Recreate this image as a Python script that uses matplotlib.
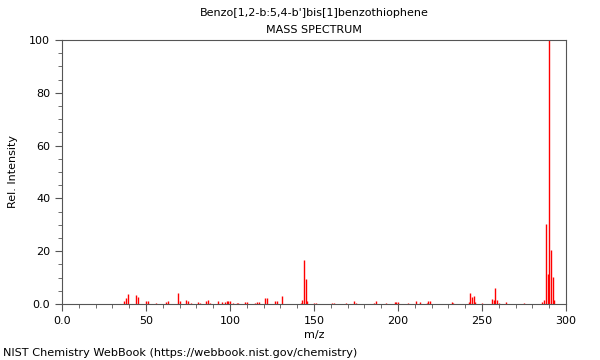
import matplotlib
matplotlib.use('Agg')
import matplotlib.pyplot as plt
from matplotlib.ticker import MultipleLocator, FixedFormatter, FixedLocator

# Title text
COMPOUND = "Benzo[1,2-b:5,4-b']bis[1]benzothiophene"
SUBTITLE = "MASS SPECTRUM"
CREDIT = "NIST Chemistry WebBook (https://webbook.nist.gov/chemistry)"

# Peaks (m/z, relative intensity)
mz = [37, 38, 39, 44, 45, 50, 51, 56, 62, 63, 69, 70, 74, 75, 77, 81, 82,
      86, 87, 88, 93, 95, 97, 98, 99, 100, 102, 104, 105, 109, 110, 115, 116,
      117, 121, 122, 127, 128, 131, 142, 143, 144, 145, 146, 150, 151, 161,
      162, 169, 174, 175, 186, 187, 193, 198, 199, 200, 206, 211, 213, 217,
      218, 219, 232, 233, 242, 243, 244, 245, 246, 250, 256, 257, 258, 259,
      260, 264, 275, 286, 287, 288, 289, 290, 291, 292, 293]
intensity = [1.0, 2.3, 3.7, 3.3, 2.6, 1.1, 1.0, 0.5, 0.8, 1.1, 4.2, 1.0, 1.5,
             1.0, 0.5, 0.8, 0.5, 1.2, 1.5, 0.5, 1.3, 0.8, 0.8, 1.0, 1.2, 1.3,
             0.3, 0.3, 0.4, 0.8, 0.8, 0.5, 0.8, 0.6, 2.2, 2.3, 1.3, 1.3, 3.0,
             0.3, 1.5, 16.5, 9.5, 1.0, 0.5, 0.4, 0.5, 0.5, 0.3, 1.0, 0.4, 0.5,
             1.0, 0.5, 0.8, 0.8, 0.6, 0.3, 1.0, 0.6, 0.5, 1.3, 1.0, 0.6, 0.5,
             0.6, 4.2, 2.5, 3.2, 0.8, 0.5, 2.0, 1.5, 6.2, 1.5, 0.4, 0.8, 0.5,
             0.8, 1.5, 30.3, 11.4, 100.0, 20.5, 10.4, 1.5]

x_ticks = [0, 50, 100, 150, 200, 250, 300]
x_tick_labels = ["0.0", "50", "100", "150", "200", "250", "300"]
y_ticks = [0, 20, 40, 60, 80, 100]
y_tick_labels = ["0.0", "20", "40", "60", "80", "100"]

fig = plt.figure(figsize=(6, 3.6), dpi=100)
ax = fig.add_axes([62 / 600, 1 - 304 / 360, 504 / 600, 264 / 360])

ax.vlines(mz, 0, intensity, colors='red', linewidth=1.0)

ax.set_xlim(0, 300)
ax.set_ylim(0, 100)

ax.xaxis.set_major_locator(FixedLocator(x_ticks))
ax.xaxis.set_major_formatter(FixedFormatter(x_tick_labels))
ax.xaxis.set_minor_locator(MultipleLocator(10))
ax.yaxis.set_major_locator(FixedLocator(y_ticks))
ax.yaxis.set_major_formatter(FixedFormatter(y_tick_labels))
ax.yaxis.set_minor_locator(MultipleLocator(5))

ax.tick_params(which='major', length=5, width=0.8, labelsize=8, color='#555555')
ax.tick_params(which='minor', length=3, width=0.6, color='#555555')
for s in ax.spines.values():
    s.set_color('#555555')
    s.set_linewidth(0.8)

ax.set_xlabel("m/z", fontsize=8, labelpad=3)
ax.set_ylabel("Rel. Intensity", fontsize=8, labelpad=8)

fig.text(314 / 600, 1 - 13 / 360, COMPOUND, ha='center', va='center', fontsize=8)
fig.text(314 / 600, 1 - 30 / 360, SUBTITLE, ha='center', va='center', fontsize=8)
fig.text(3 / 600, 1 - 353 / 360, CREDIT, ha='left', va='center', fontsize=8.1)

fig.savefig('out.png', dpi=100)
